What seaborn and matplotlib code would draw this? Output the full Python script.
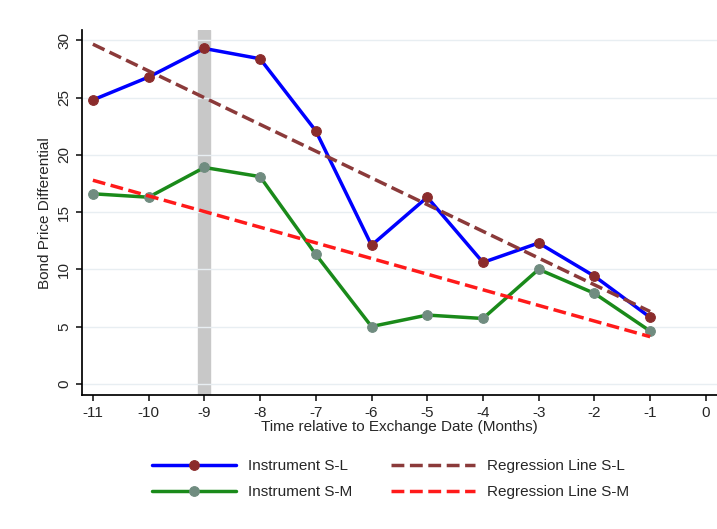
import numpy as np
import pandas as pd
import matplotlib
matplotlib.use("Agg")
import matplotlib.pyplot as plt
import seaborn as sns

months = [-11, -10, -9, -8, -7, -6, -5, -4, -3, -2, -1]
s_l = [24.8, 26.8, 29.3, 28.4, 22.1, 12.1, 16.3, 10.6, 12.3, 9.4, 5.8]
s_m = [16.6, 16.3, 18.9, 18.1, 11.3, 5.0, 6.0, 5.7, 10.0, 7.9, 4.6]

sns.set_theme(style="white")
plt.rcParams['font.family'] = ['Liberation Sans', 'DejaVu Sans']
plt.rcParams['axes.unicode_minus'] = False

x = np.array(months, dtype=float)
fit_l = np.polyval(np.polyfit(x, s_l, 1), x)
fit_m = np.polyval(np.polyfit(x, s_m, 1), x)
df = pd.DataFrame({"m": x, "sl": s_l, "sm": s_m, "fl": fit_l, "fm": fit_m})

fig = plt.figure(figsize=(7.17, 5.29), dpi=100)
ax = fig.add_axes([0.114, 0.253, 0.886, 0.69])
ax.axvspan(-9.11, -8.89, color="#c8c8c8", zorder=0)
ax.yaxis.grid(True, color="#e8eef2", lw=1)

sns.lineplot(data=df, x="m", y="sl", ax=ax, color="#0000ff", lw=2.5, marker="o",
             markersize=7, markerfacecolor="#8b2c2c", markeredgecolor="#8b2c2c", label="Instrument S-L")
sns.lineplot(data=df, x="m", y="sm", ax=ax, color="#1a8a1a", lw=2.5, marker="o",
             markersize=7, markerfacecolor="#708c80", markeredgecolor="#708c80", label="Instrument S-M")
sns.lineplot(data=df, x="m", y="fl", ax=ax, color="#8b3a3a", lw=2.5, ls="--", label="Regression Line S-L")
sns.lineplot(data=df, x="m", y="fm", ax=ax, color="#ff1a1a", lw=2.5, ls="--", label="Regression Line S-M")

ax.set_xlim(-11.2, 0.2)
ax.set_ylim(-1, 30.9)
ax.set_xticks(range(-11, 1))
ax.set_yticks(range(0, 31, 5))
ax.tick_params(axis="y", labelrotation=90, left=True, length=4, labelsize=11)
ax.tick_params(axis="x", bottom=True, length=4, labelsize=11)
for lab in ax.get_yticklabels():
    lab.set_va("center")
ax.set_xlabel("Time relative to Exchange Date (Months)", fontsize=11, labelpad=0)
ax.set_ylabel("Bond Price Differential", fontsize=11)
for s in ["top", "right"]:
    ax.spines[s].set_visible(False)
for s in ["left", "bottom"]:
    ax.spines[s].set_color("black")

h, l = ax.get_legend_handles_labels()
ax.legend_.remove()
fig.legend(h, l, ncol=2, loc="lower center",
           bbox_to_anchor=(0.545, 0.03), frameon=False, fontsize=11, handlelength=5.5,
           columnspacing=2.5, labelspacing=0.8)
fig.savefig("out.png", dpi=100)
